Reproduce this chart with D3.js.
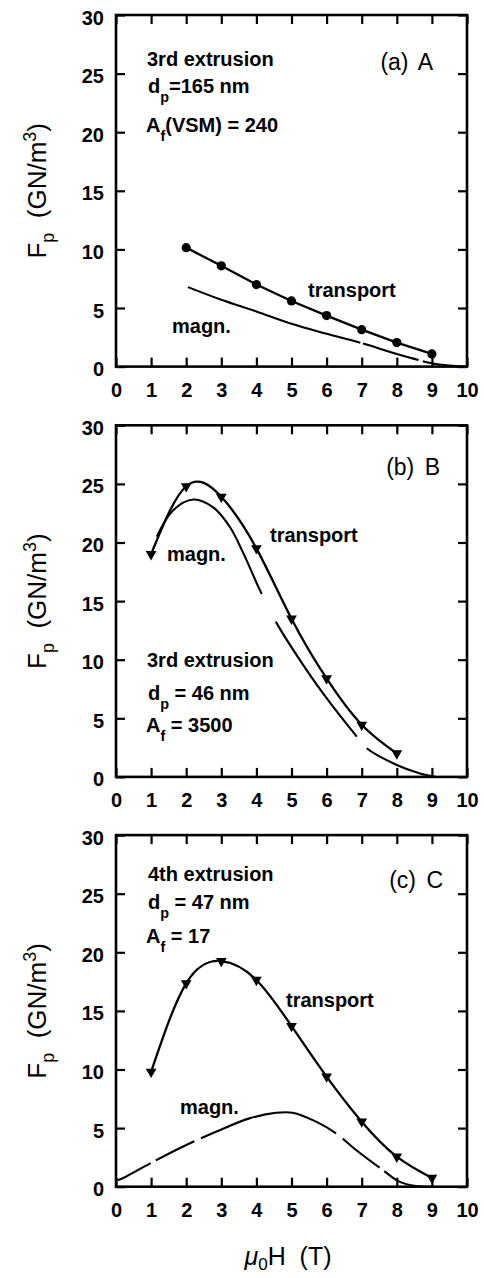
<!DOCTYPE html>
<html><head><meta charset="utf-8">
<script src="https://cdn.jsdelivr.net/npm/d3@7"></script>
<style>
html,body{margin:0;padding:0;background:#fff;}
svg{display:block;}
text{font-family:"Liberation Sans",Arial,Helvetica,sans-serif;fill:#000;}
</style></head><body>
<svg id="chart" width="484" height="1278"></svg>
<script>
// ---------- data ----------
const xTicks = [0,1,2,3,4,5,6,7,8,9,10];
const yTicks = [0,5,10,15,20,25,30];

// panel (a)
const aTransportH  = [2,3,4,5,6,7,8,9];
const aTransportFp = [10.15,8.6,7.0,5.6,4.35,3.15,2.05,1.08];
const aMagnH  = [2.05,3,4,5,6,7,8,8.5,9,9.5,9.95];
const aMagnFp = [6.78,5.7,4.7,3.65,2.8,2.0,1.08,0.66,0.28,0.08,0];

// panel (b)
const bTransportH  = [1,2,3,4,5,6,7,8];
const bTransportFp = [19.0,24.8,23.9,19.5,13.5,8.4,4.45,2.0];
const bMagnH  = [1.16,1.63,2.2,2.77,3.25,3.63,4.1,4.58,5.24,5.9,6.86,7.14,8.0,8.66,8.95,9.1];
const bMagnFp = [20.5,22.76,23.67,23.0,21.3,19.07,15.94,13.1,9.97,7.13,3.44,2.45,1.02,0.3,0.1,0];

// panel (c)
const cTransportH  = [1,2,3,4,5,6,7,8,9];
const cTransportFp = [9.8,17.35,19.25,17.64,13.71,9.39,5.55,2.56,0.75];
const cMagnH  = [0.05,0.28,0.95,1.9,2.85,3.8,4.56,5.03,5.7,6.27,6.84,7.6,8.07,8.55,9.0];
const cMagnFp = [0.55,0.85,1.95,3.41,4.69,5.83,6.31,6.31,5.55,4.55,3.13,1.42,0.43,0.06,0];

// ---------- layout ----------
const svg = d3.select('#chart');
const L = 116, R = 467, PH = 351.6;
const FONT = '"Liberation Sans",Arial,Helvetica,sans-serif';

const panels = [
  { top:15, tH:aTransportH, tFp:aTransportFp, tCurve:d3.curveLinear, marker:'circle',
    mH:aMagnH, mFp:aMagnFp, gaps:[[6.96,7.04],[8.62,8.74]],
    tag:'(a) A', tagX:433, tagY:55,
    notes:[{x:147,y:51,parts:[['3rd extrusion']]},
           {x:148,y:78,parts:[['d'],['p','sub'],['=165 nm']]},
           {x:146,y:117,parts:[['A'],['f','sub'],['(VSM) = 240']]}],
    tLab:{x:308,y:282}, mLab:{x:172,y:318} },
  { top:425.3, tH:bTransportH, tFp:bTransportFp, tCurve:d3.curveNatural, marker:'tri',
    mH:bMagnH, mFp:bMagnFp, gaps:[[4.15,4.55],[6.86,7.14]],
    tag:'(b) B', tagX:440, tagY:50,
    notes:[{x:147,y:241.5,parts:[['3rd extrusion']]},
           {x:148,y:274.5,parts:[['d'],['p','sub'],[' = 46 nm']]},
           {x:146,y:306.5,parts:[['A'],['f','sub'],[' = 3500']]}],
    tLab:{x:270,y:116.5}, mLab:{x:167,y:135.5} },
  { top:835.1, tH:cTransportH, tFp:cTransportFp, tCurve:d3.curveNatural, marker:'tri',
    mH:cMagnH, mFp:cMagnFp, gaps:[[0.99,1.14],[2.23,2.42],[6.27,6.46],[7.5,7.64]],
    tag:'(c) C', tagX:443, tagY:53,
    notes:[{x:148,y:45.5,parts:[['4th extrusion']]},
           {x:148,y:74,parts:[['d'],['p','sub'],[' = 47 nm']]},
           {x:146,y:108,parts:[['A'],['f','sub'],[' = 17']]}],
    tLab:{x:286,y:172}, mLab:{x:180,y:279} }
];

function addRich(g, x, y, parts, size, weight){
  const t = g.append('text').attr('x',x).attr('y',y)
    .attr('font-size',size).attr('font-weight',weight).style('white-space','pre');
  let shift = 0;
  parts.forEach(([s,k])=>{
    if(k==='sub'){
      const d = size*0.45; t.append('tspan').attr('font-size',size*0.72).attr('dy',d-shift).text(s); shift = d;
    } else if(k==='sup'){
      const d = -size*0.45; t.append('tspan').attr('font-size',size*0.72).attr('dy',d-shift).text(s); shift = d;
    } else {
      t.append('tspan').attr('dy',-shift).text(s); shift = 0;
    }
  });
  return t;
}

function applyGaps(path, gaps, x){
  const node = path.node();
  const total = node.getTotalLength();
  const lenAtX = xv => {
    let lo=0, hi=total;
    for(let i=0;i<40;i++){
      const mid=(lo+hi)/2;
      if(node.getPointAtLength(mid).x < xv) lo=mid; else hi=mid;
    }
    return lo;
  };
  const arr=[]; let pos=0;
  gaps.forEach(([g0,g1])=>{
    const l0=lenAtX(x(g0)), l1=lenAtX(x(g1));
    arr.push(l0-pos, l1-l0); pos=l1;
  });
  arr.push(total-pos+2, 0);
  path.attr('stroke-dasharray', arr.join(' '));
}

panels.forEach(p=>{
  const T = p.top, B = p.top + PH;
  const x = d3.scaleLinear().domain([0,10]).range([L,R]);
  const y = d3.scaleLinear().domain([0,30]).range([B,T]);
  const g = svg.append('g');

  const styleAxis = sel => {
    sel.select('.domain').remove();
    sel.selectAll('.tick line').attr('stroke','#000').attr('stroke-width',2.2);
    sel.selectAll('text').attr('font-family',FONT).attr('font-size',20)
      .attr('font-weight','bold').attr('fill','#000');
  };
  g.append('g').attr('transform',`translate(0,${B})`)
    .call(d3.axisBottom(x).tickValues(xTicks).tickSizeInner(-9).tickSizeOuter(0).tickPadding(16).tickFormat(d3.format('d')))
    .call(styleAxis);
  g.append('g').attr('transform',`translate(0,${T})`)
    .call(d3.axisTop(x).tickValues(xTicks).tickSizeInner(-9).tickSizeOuter(0).tickFormat(''))
    .call(styleAxis);
  g.append('g').attr('transform',`translate(${L},0)`)
    .call(d3.axisLeft(y).tickValues(yTicks).tickSizeInner(-9).tickSizeOuter(0).tickPadding(12).tickFormat(d3.format('d')))
    .call(styleAxis)
    .call(s=>s.selectAll('text').attr('dy','0.45em'));
  g.append('g').attr('transform',`translate(${R},0)`)
    .call(d3.axisRight(y).tickValues(yTicks).tickSizeInner(-9).tickSizeOuter(0).tickFormat(''))
    .call(styleAxis);

  g.append('rect').attr('x',L).attr('y',T).attr('width',R-L).attr('height',B-T)
    .attr('fill','none').attr('stroke','#000').attr('stroke-width',2.6);

  const mData = p.mH.map((h,i)=>[h,p.mFp[i]]);
  const mPath = g.append('path').datum(mData)
    .attr('d', d3.line().x(d=>x(d[0])).y(d=>y(d[1])).curve(d3.curveCatmullRom.alpha(0.5)))
    .attr('fill','none').attr('stroke','#000').attr('stroke-width',2.1);
  applyGaps(mPath, p.gaps, x);

  const tData = p.tH.map((h,i)=>[h,p.tFp[i]]);
  g.append('path').datum(tData)
    .attr('d', d3.line().x(d=>x(d[0])).y(d=>y(d[1])).curve(p.tCurve))
    .attr('fill','none').attr('stroke','#000').attr('stroke-width',2.3);
  if(p.marker==='circle'){
    g.selectAll('circle.m').data(tData).join('circle').attr('class','m')
      .attr('cx',d=>x(d[0])).attr('cy',d=>y(d[1])).attr('r',4.6).attr('fill','#000');
  } else {
    g.selectAll('path.m').data(tData).join('path').attr('class','m')
      .attr('d', d3.symbol().type(d3.symbolTriangle).size(50))
      .attr('transform',d=>`translate(${x(d[0])},${y(d[1])}) rotate(180)`)
      .attr('fill','#000');
  }

  p.notes.forEach(n=>addRich(g, n.x, T+n.y, n.parts, 20, 'bold'));
  g.append('text').attr('x',p.tagX).attr('y',T+p.tagY).attr('text-anchor','end')
    .attr('font-size',23).attr('word-spacing','4px').text(p.tag);
  g.append('text').attr('x',p.tLab.x).attr('y',T+p.tLab.y).attr('font-size',20)
    .attr('font-weight','bold').text('transport');
  g.append('text').attr('x',p.mLab.x).attr('y',T+p.mLab.y).attr('font-size',20)
    .attr('font-weight','bold').text('magn.');

  const yl = g.append('g').attr('transform',`translate(46,${(T+B)/2}) rotate(-90)`);
  const yt = yl.append('text').attr('text-anchor','middle').attr('font-size',26).style('white-space','pre');
  yt.append('tspan').text('F');
  yt.append('tspan').attr('font-size',18).attr('dy',8).text('p');
  yt.append('tspan').attr('dy',-8).text('  (GN/m');
  yt.append('tspan').attr('font-size',18).attr('dy',-10).text('3');
  yt.append('tspan').attr('dy',10).text(')');
});

const xt = svg.append('text').attr('x',288).attr('y',1265).attr('text-anchor','middle')
  .attr('font-size',25).style('white-space','pre');
xt.append('tspan').attr('font-style','italic').text('\u03bc');
xt.append('tspan').attr('font-size',17).attr('dy',5).text('0');
xt.append('tspan').attr('dy',-5).text('H  (T)');
</script>
</body></html>
